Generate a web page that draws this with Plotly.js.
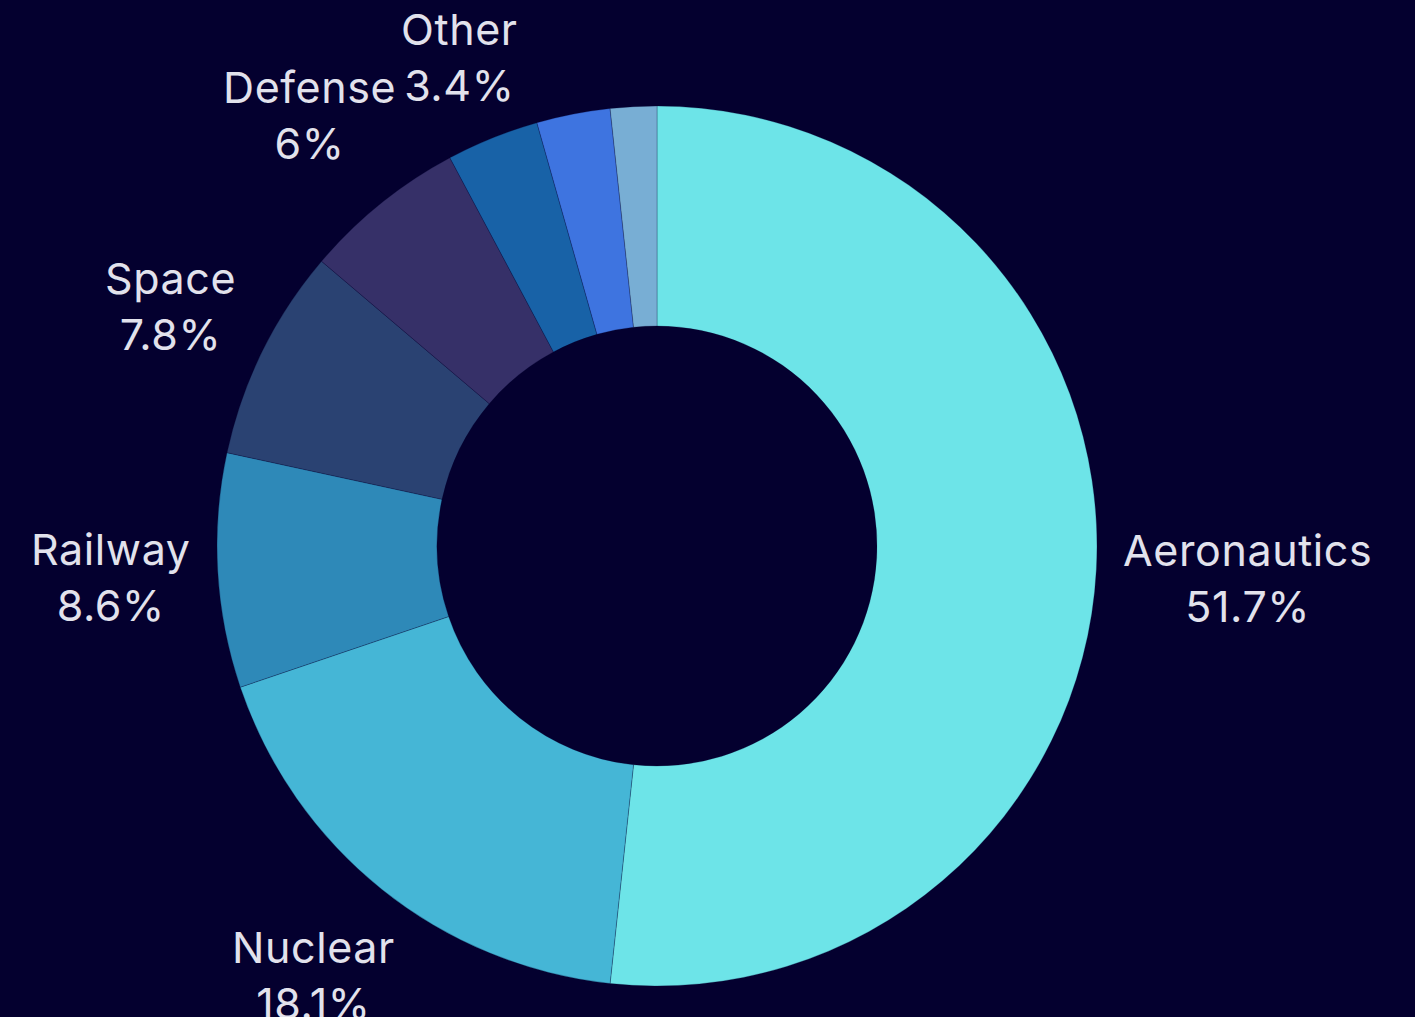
<!DOCTYPE html>
<html>
<head>
<meta charset="utf-8">
<script src="https://cdn.plot.ly/plotly-3.0.1.min.js"></script>
<style>
  html, body { margin: 0; padding: 0; background: #04002f; }
  #chart { width: 1415px; height: 1017px; }
  .annotation-text { letter-spacing: 0.6px; }
</style>
</head>
<body>
<div id="chart"></div>
<script>
const sectors = ["Aeronautics", "Nuclear", "Railway", "Space", "Defense", "Other", "Other (b)", "Other (c)"];
const shares = [51.7, 18.1, 8.6, 7.8, 6, 3.4, 2.7, 1.7];
const showLabel = [true, true, true, true, true, true, false, false];
const sliceColors = ["#6de4e8", "#45b6d6", "#2e89b8", "#2a4272", "#363068", "#1862a7", "#3e74e0", "#78aed4"];

const FONT = { family: "Inter, 'Open Sans', sans-serif", size: 43, color: "#e2e2ec" };
const LABEL_PAD = 25;

const trace = {
  type: "pie",
  labels: sectors,
  values: shares,
  hole: 0.5,
  sort: false,
  direction: "clockwise",
  rotation: 0,
  textinfo: "none",
  hoverinfo: "label+percent",
  marker: { colors: sliceColors, line: { color: "rgba(4,0,47,0.25)", width: 1 } },
  showlegend: false
};

const layout = {
  width: 1415,
  height: 1017,
  paper_bgcolor: "#04002f",
  plot_bgcolor: "#04002f",
  margin: { l: 80, r: 181, t: 106, b: 31 },
  showlegend: false
};

const gd = document.getElementById("chart");
const labelled = shares.map((v, i) => i).filter(i => showLabel[i]);

Plotly.newPlot(gd, [trace], layout, { displayModeBar: false, staticPlot: true }).then(() => {
  const anns = labelled.map(i => ({
    text: sectors[i] + "<br>" + shares[i] + "%",
    xref: "paper", yref: "paper", x: 0.5, y: 0.5,
    xanchor: "center", yanchor: "middle", align: "center",
    showarrow: false, font: FONT
  }));
  return Plotly.relayout(gd, { annotations: anns });
}).then(() => {
  const cd0 = gd.calcdata[0][0];
  const fl = gd._fullLayout;
  const r = cd0.r, cx = cd0.cx, cy = cd0.cy;
  const total = shares.reduce((a, b) => a + b, 0);
  const cum = [];
  let acc = 0;
  shares.forEach(v => { cum.push(acc); acc += v; });
  const textNodes = gd.querySelectorAll(".annotation-text");
  const H = FONT.size * (0.73 + 1.3);
  const upd = {};
  labelled.forEach((i, k) => {
    const W = textNodes[k].getBBox().width;
    const theta = ((cum[i] + shares[i] / 2) / total) * 2 * Math.PI;
    const s = Math.sin(theta), c = Math.cos(theta);
    const h = (W / 2) * Math.abs(s) + (H / 2) * Math.abs(c);
    const d = r + LABEL_PAD + h;
    const px = cx + d * s;
    const py = cy - d * c;
    upd["annotations[" + k + "].x"] = (px - fl._size.l) / fl._size.w;
    upd["annotations[" + k + "].y"] = 1 - (py - fl._size.t) / fl._size.h;
  });
  return Plotly.relayout(gd, upd);
});
</script>
</body>
</html>
